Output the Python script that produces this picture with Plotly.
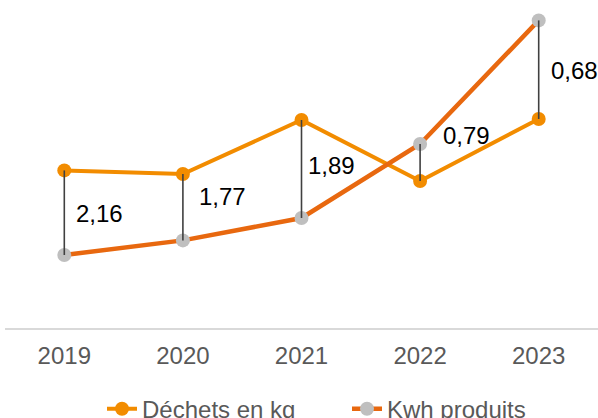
import plotly.graph_objects as go

years = ["2019", "2020", "2021", "2022", "2023"]
dechets = [157.6, 154.0, 208.0, 147.0, 209.0]
kwh = [73.0, 87.6, 110.0, 184.0, 307.6]
ratios = ["2,16", "1,77", "1,89", "0,79", "0,68"]

C_DECHETS = "#F28C00"
C_KWH = "#E8680F"
C_GRAY = "#BFBFBF"
FONT = "Liberation Sans, Arial, sans-serif"

fig = go.Figure()
fig.add_trace(go.Scatter(
    x=years, y=dechets, name="Déchets en kg", mode="lines+markers",
    line=dict(color=C_DECHETS, width=4),
    marker=dict(color=C_DECHETS, size=14),
))
fig.add_trace(go.Scatter(
    x=years, y=kwh, name="Kwh produits", mode="lines+markers",
    line=dict(color=C_KWH, width=4.5),
    marker=dict(color=C_GRAY, size=14),
))

# high-low connector lines
hx, hy = [], []
for yr, a, b in zip(years, dechets, kwh):
    hx += [yr, yr, None]
    hy += [a, b, None]
fig.add_trace(go.Scatter(
    x=hx, y=hy, mode="lines", showlegend=False, hoverinfo="skip",
    line=dict(color="#404040", width=1.6),
))

# ratio labels
xshifts = [10, 14, 4, 21, 10]
yshifts = [-1, 11, 4, 27, -1]
for i, (a, b, t) in enumerate(zip(dechets, kwh, ratios)):
    fig.add_annotation(
        x=i, y=(a + b) / 2, xref="x", yref="y", text=t, showarrow=False,
        xanchor="left", yanchor="middle", xshift=xshifts[i], yshift=yshifts[i],
        font=dict(family=FONT, size=24, color="#000000"),
    )

fig.update_layout(
    width=598, height=418,
    margin=dict(l=5, r=0, t=10, b=90, autoexpand=False),
    paper_bgcolor="white", plot_bgcolor="white",
    font=dict(family=FONT),
    showlegend=True,
    legend=dict(
        orientation="h", x=(102 - 5) / 593, xanchor="left", y=-0.255, yanchor="middle",
        font=dict(family=FONT, size=24, color="#595959"),
        itemwidth=30, tracegroupgap=0, entrywidth=200,
    ),
    xaxis=dict(
        type="category", range=[-0.5, 4.5], showgrid=False, zeroline=False,
        showline=True, linecolor="#D9D9D9", linewidth=1.5,
        ticks="outside", ticklen=5, tickcolor="rgba(0,0,0,0)",
        tickfont=dict(family=FONT, size=24, color="#595959"),
        automargin=False,
    ),
    yaxis=dict(visible=False, range=[0, 318], showgrid=False, zeroline=False),
)

fig.write_html(
    "out.html",
    config={"displayModeBar": False},
    post_script="document.body.style.margin='0';document.body.style.overflow='hidden';",
)
